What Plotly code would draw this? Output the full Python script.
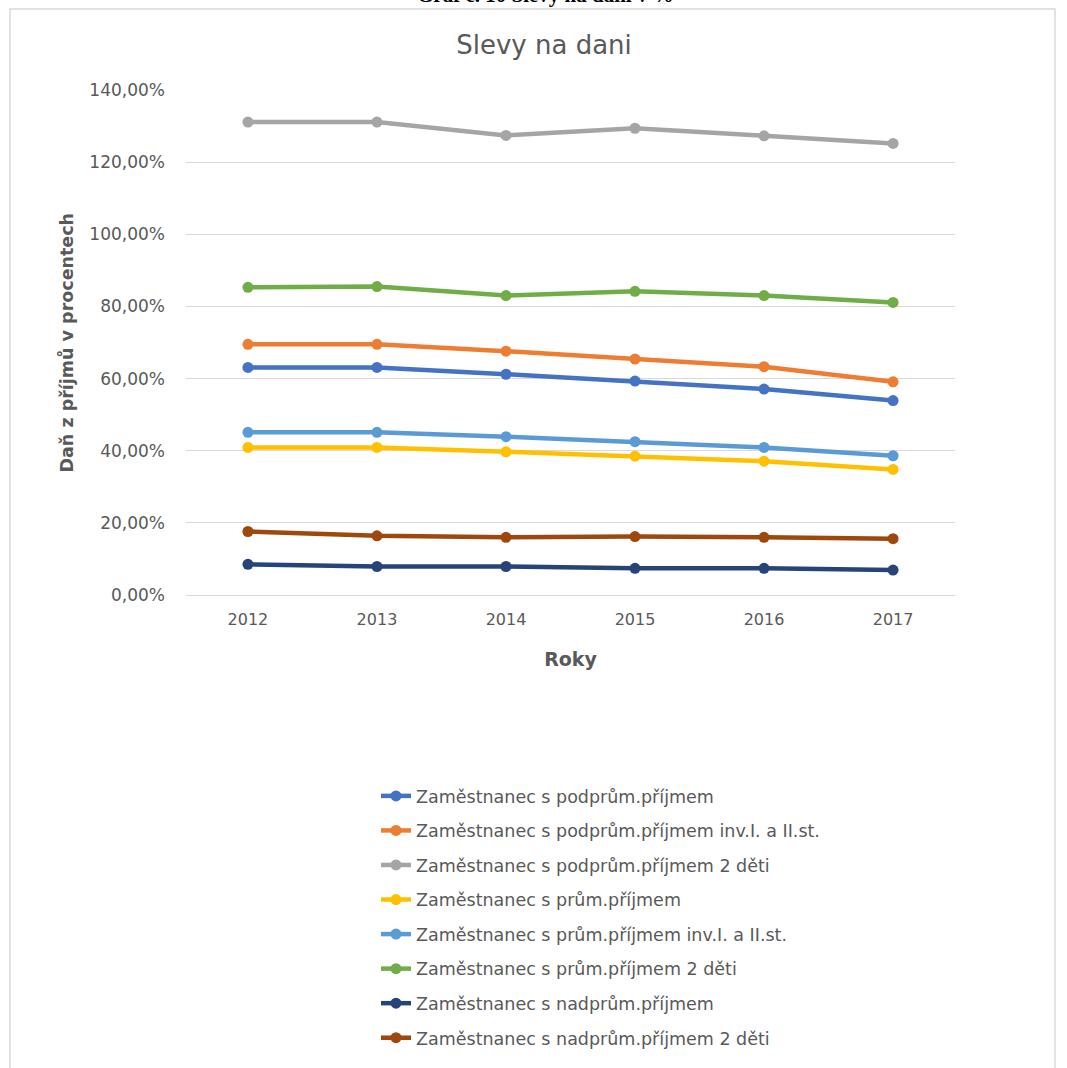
import plotly.graph_objects as go

years = ["2012", "2013", "2014", "2015", "2016", "2017"]

series_names = [
    "Zaměstnanec s podprům.příjmem",
    "Zaměstnanec s podprům.příjmem inv.I. a II.st.",
    "Zaměstnanec s podprům.příjmem 2 děti",
    "Zaměstnanec s prům.příjmem",
    "Zaměstnanec s prům.příjmem inv.I. a II.st.",
    "Zaměstnanec s prům.příjmem 2 děti",
    "Zaměstnanec s nadprům.příjmem",
    "Zaměstnanec s nadprům.příjmem 2 děti",
]

podprum = [63.1, 63.1, 61.2, 59.3, 57.1, 53.9]
podprum_inv = [69.5, 69.5, 67.6, 65.4, 63.3, 59.1]
podprum_deti = [131.1, 131.1, 127.4, 129.4, 127.3, 125.2]
prum = [40.9, 40.9, 39.7, 38.5, 37.1, 34.8]
prum_inv = [45.1, 45.1, 43.9, 42.5, 40.9, 38.6]
prum_deti = [85.3, 85.5, 83.0, 84.2, 83.0, 81.1]
nadprum = [8.5, 7.9, 7.9, 7.4, 7.4, 6.9]
nadprum_deti = [17.6, 16.4, 16.0, 16.2, 16.0, 15.6]

series_values = [podprum, podprum_inv, podprum_deti, prum, prum_inv,
                 prum_deti, nadprum, nadprum_deti]
colors = ["#4472C4", "#ED7D31", "#A5A5A5", "#FFC000",
          "#5B9BD5", "#70AD47", "#264478", "#9E480E"]

y_ticks = [0, 20, 40, 60, 80, 100, 120, 140]
y_tick_labels = [f"{v:.2f}".replace(".", ",") + "%" for v in y_ticks]

W, H = 1067, 1068
L, R, T, B = 186, 955, 90, 595
FONT = "DejaVu Sans"
GREY = "#595959"


def px_x(x):
    return (x - L) / (R - L)


def px_y(y):
    return (B - y) / (B - T)


fig = go.Figure()
xidx = list(range(len(years)))
for i, (name, vals, col) in enumerate(zip(series_names, series_values, colors)):
    fig.add_trace(go.Scatter(
        x=xidx, y=vals, name=name, mode="lines+markers",
        line=dict(color=col, width=4.5),
        marker=dict(color=col, size=11),
        legendgroup=f"g{i}",
    ))

fig.update_layout(
    width=W, height=H,
    margin=dict(l=L, r=W - R, t=T, b=H - B, autoexpand=False),
    paper_bgcolor="white", plot_bgcolor="white",
    font=dict(family=FONT, color=GREY),
    title=dict(text="Slevy na dani", font=dict(size=26, color=GREY, family=FONT),
               x=px_x(544), xref="paper", xanchor="center",
               y=1 - 45 / H, yref="container", yanchor="middle"),
    showlegend=True,
    legend=dict(
        x=px_x(376), y=px_y(778), xanchor="left", yanchor="top",
        xref="paper", yref="paper",
        font=dict(size=17.5, color=GREY, family=FONT),
        traceorder="grouped", tracegroupgap=8.8,
        bgcolor="rgba(0,0,0,0)",
    ),
    xaxis=dict(
        range=[-0.48, 5.48], tickmode="array", tickvals=xidx, ticktext=years,
        showgrid=False, zeroline=False, showline=True, linecolor="#D9D9D9",
        linewidth=1, ticks="", ticklabelstandoff=10,
        tickfont=dict(size=16, color=GREY, family=FONT),
        title=dict(text="<b>Roky</b>", font=dict(size=19, color=GREY, family=FONT),
                   standoff=24),
        fixedrange=True,
    ),
    yaxis=dict(
        range=[0, 140], tickmode="array", tickvals=y_ticks, ticktext=y_tick_labels,
        showgrid=True, gridcolor="#D9D9D9", gridwidth=1.3,
        zeroline=False, showline=False, ticks="", ticklabelstandoff=20,
        tickfont=dict(size=17, color=GREY, family=FONT),
        fixedrange=True,
    ),
)

# y-axis title
fig.add_annotation(text="<b>Daň z příjmů v procentech</b>", textangle=-90,
                   xref="paper", yref="paper", x=px_x(66), y=0.5,
                   xanchor="center", yanchor="middle", showarrow=False,
                   font=dict(size=17.5, color=GREY, family=FONT))

# outer chart border
fig.add_shape(type="rect", xref="paper", yref="paper",
              x0=px_x(10), x1=px_x(1055), y0=px_y(1080), y1=px_y(9),
              line=dict(color="#D9D9D9", width=1.5), layer="below")

# clipped caption above the chart
fig.add_annotation(text="<b>Graf č. 10 Slevy na daní v %</b>",
                   xref="paper", yref="paper", x=px_x(545), y=px_y(-5),
                   xanchor="center", yanchor="middle", showarrow=False,
                   font=dict(family="Liberation Serif", size=21, color="black"))

fig.write_html("out.html")
